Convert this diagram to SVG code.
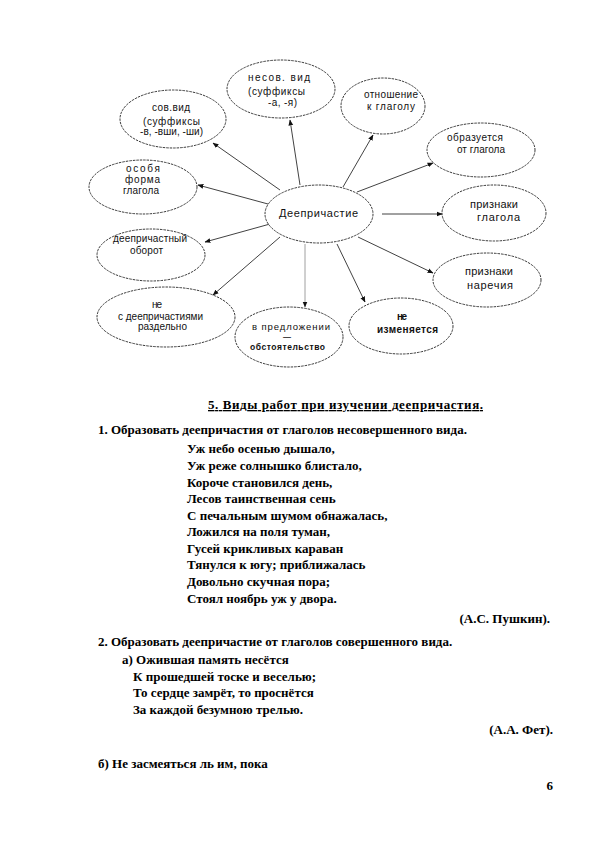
<svg xmlns="http://www.w3.org/2000/svg" width="595" height="842" viewBox="0 0 595 842">
<style>
.e{fill:#fff;stroke:#222;stroke-width:0.9;stroke-dasharray:2.5 1}
.t{font-family:"Liberation Sans",Arial,sans-serif;font-size:10px;fill:#111}
.L{font-size:11px}
.b{font-weight:bold}
.c{stroke:#111;stroke-width:0.8;fill:none;marker-end:url(#ah)}
.s{font-family:"Liberation Serif","Times New Roman",serif;font-size:13px;font-weight:bold;fill:#000}
</style>
<defs>
<marker id="ah" viewBox="0 0 10 10" refX="9" refY="5" markerWidth="6" markerHeight="6" orient="auto" markerUnits="userSpaceOnUse">
<path d="M0,1 L10,5 L0,9 z" fill="#111"/>
</marker>
</defs>
<rect width="595" height="842" fill="#fff"/>
<g id="connectors">
<line class="c" x1="300" y1="185" x2="290" y2="120"/>
<line class="c" x1="343" y1="187" x2="373" y2="135"/>
<line class="c" x1="280" y1="190" x2="213" y2="143"/>
<line class="c" x1="357" y1="192" x2="433" y2="163"/>
<line class="c" x1="268" y1="204" x2="198" y2="185"/>
<line class="c" x1="382" y1="214" x2="442" y2="214"/>
<line class="c" x1="270" y1="224" x2="205" y2="242"/>
<line class="c" x1="358" y1="237" x2="433" y2="273"/>
<line class="c" x1="280" y1="237" x2="213" y2="295"/>
<line class="c" x1="305" y1="244" x2="305" y2="307" style="stroke:#888"/>
<line class="c" x1="337" y1="244" x2="365" y2="302"/>
</g>
<g id="center">
<ellipse class="e" cx="319" cy="214" rx="54" ry="29"/>
<text class="t L" x="279" y="217" textLength="79" lengthAdjust="spacing">Деепричастие</text>
</g>
<g id="n1">
<ellipse class="e" cx="281" cy="89" rx="54" ry="29"/>
<text class="t" x="248" y="81" textLength="62" lengthAdjust="spacing">несов. вид</text>
<text class="t" x="248" y="95" textLength="57" lengthAdjust="spacing">(суффиксы</text>
<text class="t" x="268" y="106" textLength="29" lengthAdjust="spacing">-а, -я)</text>
</g>
<g id="n2">
<ellipse class="e" cx="383" cy="106" rx="42" ry="28"/>
<text class="t" x="364" y="98" textLength="54" lengthAdjust="spacing">отношение</text>
<text class="t" x="367" y="110" textLength="48" lengthAdjust="spacing">к глаголу</text>
</g>
<g id="n3">
<ellipse class="e" cx="173" cy="119" rx="53" ry="29"/>
<text class="t" x="152" y="111" textLength="38" lengthAdjust="spacing">сов.вид</text>
<text class="t" x="143" y="125" textLength="57" lengthAdjust="spacing">(суффиксы</text>
<text class="t" x="140" y="135" textLength="63" lengthAdjust="spacing">-в, -вши, -ши)</text>
</g>
<g id="n4">
<ellipse class="e" cx="481" cy="150" rx="54" ry="27"/>
<text class="t" x="447" y="141" textLength="56" lengthAdjust="spacing">образуется</text>
<text class="t" x="457" y="153" textLength="48" lengthAdjust="spacing">от глагола</text>
</g>
<g id="n5">
<ellipse class="e" cx="143" cy="187" rx="54" ry="27"/>
<text class="t" x="126" y="172" textLength="34" lengthAdjust="spacing">особя</text>
<text class="t" x="125" y="183" textLength="35" lengthAdjust="spacing">форма</text>
<text class="t" x="123" y="194" textLength="36" lengthAdjust="spacing">глагола</text>
</g>
<g id="n6">
<ellipse class="e" cx="494" cy="213" rx="52" ry="28"/>
<text class="t L" x="470" y="208" textLength="48" lengthAdjust="spacing">признаки</text>
<text class="t L" x="477" y="221" textLength="43" lengthAdjust="spacing">глагола</text>
</g>
<g id="n7">
<ellipse class="e" cx="151" cy="255" rx="54" ry="26"/>
<text class="t" x="113" y="242" textLength="74" lengthAdjust="spacing">деепричастный</text>
<text class="t" x="130" y="254" textLength="33" lengthAdjust="spacing">оборот</text>
</g>
<g id="n8">
<ellipse class="e" cx="487" cy="280" rx="54" ry="27"/>
<text class="t L" x="465" y="275" textLength="48" lengthAdjust="spacing">признаки</text>
<text class="t L" x="467" y="289" textLength="46" lengthAdjust="spacing">наречия</text>
</g>
<g id="n9">
<ellipse class="e" cx="166" cy="317" rx="69" ry="30"/>
<text class="t" x="152" y="308" textLength="10" lengthAdjust="spacing">не</text>
<text class="t" x="118" y="320" textLength="85" lengthAdjust="spacing">с деепричастиями</text>
<text class="t" x="138" y="330" textLength="49" lengthAdjust="spacing">раздельно</text>
</g>
<g id="n10">
<ellipse class="e" cx="289" cy="337" rx="54" ry="30"/>
<text class="t" x="252" y="330" textLength="78" lengthAdjust="spacing" style="font-size:9.5px">в предложении</text>
<text class="t b" x="283" y="339" style="font-size:8px">—</text>
<text class="t b" x="250" y="350" textLength="75" lengthAdjust="spacing" style="font-size:8.5px">обстоятельство</text>
</g>
<g id="n11">
<ellipse class="e" cx="401" cy="326" rx="52" ry="28"/>
<text class="t b" x="397" y="320" textLength="10" lengthAdjust="spacing">не</text>
<text class="t b" x="377" y="333" textLength="61" lengthAdjust="spacing">изменяется</text>
</g>
<g id="text">
<text class="s" x="208" y="409" text-decoration="underline" textLength="275" lengthAdjust="spacing">5.  Виды работ при изучении деепричастия.</text>
<text class="s" x="98" y="434">1. Образовать деепричастия от глаголов несовершенного вида.</text>
<text class="s" x="187" y="453">Уж небо осенью дышало,</text>
<text class="s" x="187" y="470">Уж реже солнышко блистало,</text>
<text class="s" x="187" y="487">Короче становился день,</text>
<text class="s" x="187" y="503">Лесов таинственная сень</text>
<text class="s" x="187" y="520">С печальным шумом обнажалась,</text>
<text class="s" x="187" y="536">Ложился на поля туман,</text>
<text class="s" x="187" y="553">Гусей крикливых караван</text>
<text class="s" x="187" y="569">Тянулся к югу; приближалась</text>
<text class="s" x="187" y="586">Довольно скучная пора;</text>
<text class="s" x="187" y="603">Стоял ноябрь уж у двора.</text>
<text class="s" x="550" y="623" text-anchor="end">(А.С. Пушкин).</text>
<text class="s" x="98" y="646">2. Образовать деепричастие от глаголов совершенного вида.</text>
<text class="s" x="122" y="664">а) Ожившая память несётся</text>
<text class="s" x="133" y="681">К прошедшей тоске и веселью;</text>
<text class="s" x="133" y="697">То сердце замрёт, то проснётся</text>
<text class="s" x="133" y="714">За каждой безумною трелью.</text>
<text class="s" x="553" y="734" text-anchor="end">(А.А. Фет).</text>
<text class="s" x="98" y="768">б) Не засмеяться ль им, пока</text>
<text class="s" x="553" y="790" text-anchor="end">6</text>
</g>
</svg>
